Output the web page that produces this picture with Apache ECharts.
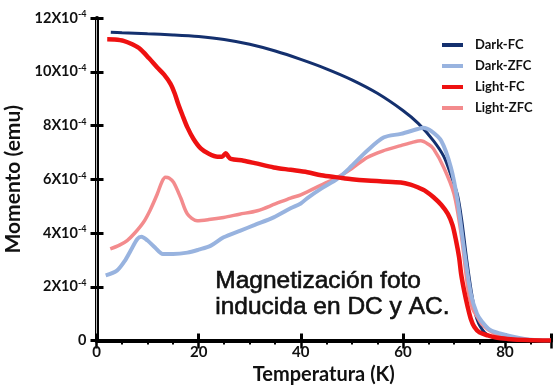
<!DOCTYPE html>
<html><head><meta charset="utf-8">
<script src="https://cdn.jsdelivr.net/npm/echarts@6/dist/echarts.min.js"></script>
<style>html,body{margin:0;padding:0;background:#fff}#c{width:553px;height:385px}</style>
</head><body><div id="c"></div>
<script>
// Data (T in K, moment in units of 1e-4 emu)
const seriesNames = ['Dark-FC', 'Dark-ZFC', 'Light-FC', 'Light-ZFC'];
const xTicks = [0, 20, 40, 60, 80];
const yTicks = [0, 2, 4, 6, 8, 10, 12];
const darkFC = [[2.8,11.47],[5,11.45],[10,11.41],[15,11.37],[20,11.31],[25,11.2],[30,11.02],[35,10.77],[40,10.46],[45,10.11],[50,9.7],[55,9.2],[60,8.56],[63,8.08],[66,7.43],[68,6.85],[69.5,6.1],[70.7,5.4],[71.5,4.5],[72.5,3.0],[73.5,1.7],[74.5,0.8],[76,0.3],[78,0.1],[82,0.02],[89,0]];
const darkZFC = [[1.8,2.42],[4,2.6],[5.5,2.95],[6.7,3.35],[8,3.78],[8.8,3.86],[10,3.72],[11.5,3.45],[13,3.22],[15,3.22],[17.8,3.27],[20,3.38],[22.4,3.53],[24.9,3.84],[28.2,4.09],[31,4.3],[34.7,4.58],[38,4.92],[40,5.1],[41.3,5.3],[44,5.65],[47.2,6.02],[50,6.5],[53,7.06],[56.3,7.56],[59.6,7.69],[62.9,7.87],[64,7.92],[65.5,7.8],[67.5,7.43],[69.4,6.44],[70.7,5.2],[72,3.35],[73.3,1.74],[74.5,1.0],[75.5,0.7],[77,0.4],[79,0.26],[82.5,0.1],[85,0.03],[89,0]];
const lightFC = [[2.1,11.21],[3.5,11.2],[5.3,11.15],[7,11.02],[8.6,10.84],[10.3,10.5],[11.9,10.16],[13.2,9.9],[14.5,9.55],[15.3,9.2],[16,8.8],[16.8,8.4],[17.8,7.93],[19,7.5],[20.4,7.15],[22,6.95],[23.7,6.84],[24.6,6.84],[25.3,6.97],[25.8,6.85],[26.3,6.76],[28.8,6.69],[31,6.6],[34.7,6.44],[38,6.35],[41.3,6.26],[44,6.15],[47.2,6.07],[50,6.0],[53,5.95],[56,5.92],[59.6,5.88],[61.5,5.8],[62.9,5.7],[64.5,5.55],[66,5.33],[67.5,5.05],[68.8,4.71],[69.7,4.3],[70.4,3.72],[71,3.1],[71.4,2.48],[72,1.85],[72.7,1.24],[73.3,0.8],[74,0.5],[75,0.3],[76.6,0.19],[78.5,0.1],[80.5,0.06],[84,0.02],[89,0]];
const lightZFC = [[2.7,3.41],[4.5,3.55],[6,3.72],[7.5,4.0],[9.2,4.4],[10.5,4.85],[11.9,5.45],[12.8,5.9],[13.5,6.07],[14.2,6.05],[15.1,5.88],[16.5,5.3],[17.8,4.71],[19.7,4.46],[22,4.5],[24.9,4.58],[28,4.7],[31.5,4.83],[35,5.08],[38,5.3],[40,5.42],[44.5,5.83],[47.2,6.07],[50,6.4],[53,6.81],[56,7.05],[59.6,7.25],[62,7.38],[63.5,7.43],[65,7.3],[66,7.13],[68,6.44],[70,5.46],[71.4,3.97],[72.7,1.98],[73.6,1.2],[74.6,0.87],[75.5,0.6],[77.9,0.26],[80.5,0.12],[84,0.03],[89,0]];
const annotation = ['Magnetización foto', 'inducida en DC y AC.'];

const colors = ['#14306e', '#98b3df', '#ee1111', '#f38b8d'];
const widths = [3, 4, 4.5, 3.5];
const zs = [2, 4, 5, 3];
const datasets = [darkFC, darkZFC, lightFC, lightZFC];
const F = 'Lato';

const chart = echarts.init(document.getElementById('c'), null, {renderer: 'canvas'});
const xCommon = {type: 'value', min: 0, max: 89, interval: 20};
const yCommon = {type: 'value', min: 0, max: 12, interval: 2};
chart.setOption({
  animation: false,
  backgroundColor: '#fff',
  grid: {left: 96.5, right: 2, top: 18, bottom: 44.5, containLabel: false, outerBoundsMode: 'none'},
  legend: {
    orient: 'vertical', left: 437, top: 33, itemWidth: 21, itemHeight: 4, itemGap: 7, icon: 'rect',
    data: seriesNames,
    textStyle: {fontFamily: F, fontWeight: 'bold', fontSize: 13, color: '#111', lineHeight: 14, padding: [0,0,0,7]}
  },
  xAxis: [
    Object.assign({}, xCommon, {
      position: 'bottom', name: 'Temperatura (K)', nameLocation: 'middle', nameGap: 24,
      nameTextStyle: {fontFamily: F, fontWeight: 'bold', fontSize: 20, color: '#111'},
      axisLine: {show: true, lineStyle: {color: '#000', width: 4}},
      axisTick: {show: true, inside: true, length: 7, lineStyle: {color: '#000', width: 3}},
      axisLabel: {fontFamily: F, fontWeight: 'bold', fontSize: 15, color: '#111', margin: 4, formatter: v => xTicks.includes(v) ? String(v) : ''},
      splitLine: {show: false}
    }),
    Object.assign({}, xCommon, {
      position: 'top',
      axisLine: {show: true, lineStyle: {color: '#000', width: 3}},
      axisTick: {show: true, inside: true, length: 8, lineStyle: {color: '#000', width: 2.5}},
      minorTick: {show: true, splitNumber: 4, length: 4, lineStyle: {color: '#000', width: 2}},
      axisLabel: {show: false}, splitLine: {show: false}
    })
  ],
  yAxis: [
    Object.assign({}, yCommon, {
      position: 'left', name: 'Momento (emu)', nameLocation: 'middle', nameGap: 63, nameRotate: 90,
      nameTextStyle: {fontFamily: F, fontWeight: 'bold', fontSize: 21, color: '#111'},
      axisLine: {show: true, lineStyle: {color: '#000', width: 4}},
      axisTick: {show: true, inside: true, length: 7, lineStyle: {color: '#000', width: 3}},
      axisLabel: {
        margin: 10, color: '#111',
        formatter: v => v === 0 ? '{a|0}' : '{a|' + v + 'X10}{s|-4}',
        rich: {
          a: {fontFamily: F, fontWeight: 'bold', fontSize: 14.5, color: '#111'},
          s: {fontFamily: F, fontWeight: 'bold', fontSize: 9, color: '#111', verticalAlign: 'top', padding: [0,0,7,0]}
        }
      },
      splitLine: {show: false}
    }),
    Object.assign({}, yCommon, {
      position: 'right',
      axisLine: {show: true, lineStyle: {color: '#bbb', width: 1}},
      axisTick: {show: true, inside: true, length: 6, lineStyle: {color: '#000', width: 3}},
      axisLabel: {show: false}, splitLine: {show: false}
    })
  ],
  series: seriesNames.map((n, i) => ({
    name: n, type: 'line', data: datasets[i], smooth: 0.3, showSymbol: false, symbol: 'none',
    z: zs[i], color: colors[i], lineStyle: {color: colors[i], width: widths[i]}, clip: true
  })),
  graphic: [{
    type: 'text', left: 215, top: 268, z: 10,
    style: {text: annotation.join('\n'), fontFamily: 'Liberation Sans', fontSize: 24.5, lineHeight: 26, fill: '#111', stroke: '#111', lineWidth: 0.6}
  }]
});
</script></body></html>
